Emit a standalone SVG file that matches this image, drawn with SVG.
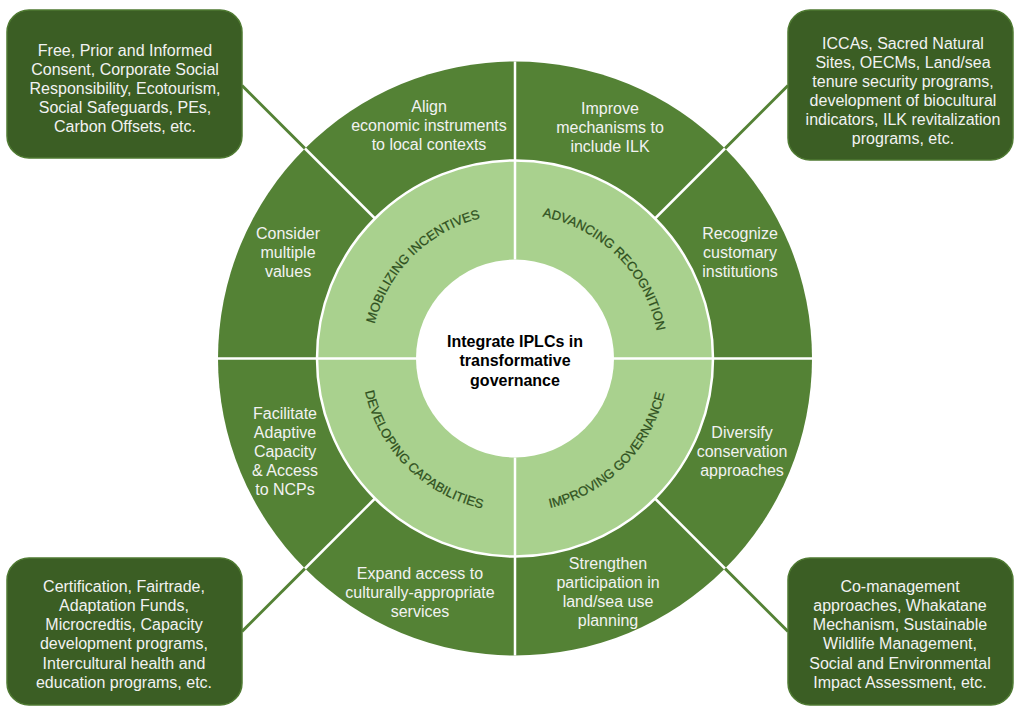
<svg xmlns="http://www.w3.org/2000/svg" width="1015" height="707" viewBox="0 0 1015 707">
<style>
  .box { fill:#3b5e24; stroke:#4f7a32; stroke-width:1.5; }
  .btxt { font-family:"Liberation Sans", Arial, sans-serif; font-size:16px; fill:#f2f2f2; text-anchor:middle; }
  .otxt { font-family:"Liberation Sans", Arial, sans-serif; font-size:16px; fill:#f2f2f2; text-anchor:middle; }
  .ctxt { font-family:"Liberation Sans", Arial, sans-serif; font-size:16px; font-weight:bold; fill:#000; text-anchor:middle; }
  .rtxt { font-family:"Liberation Sans", Arial, sans-serif; font-size:13px; fill:#2f5020; stroke:#2f5020; stroke-width:0.25; }
  .sep { stroke:#ffffff; stroke-width:2.5; fill:none; }
  .con { stroke:#548235; stroke-width:3; fill:none; }
</style>
<defs>
  <path id="arcTL" d="M 375.45 395.89 A 144.5 144.5 0 0 1 552.40 218.93"/>
  <path id="arcTR" d="M 477.60 218.93 A 144.5 144.5 0 0 1 654.55 395.89"/>
  <path id="arcBL" d="M 366.73 318.77 A 153.5 153.5 0 0 0 554.73 506.77"/>
  <path id="arcBR" d="M 475.27 506.77 A 153.5 153.5 0 0 0 663.27 318.77"/>
</defs>
<rect width="1015" height="707" fill="#ffffff"/>

<g id="connectors">
  <line class="con" x1="305" y1="148.5" x2="242" y2="85.5"/>
  <line class="con" x1="725" y1="148.5" x2="788" y2="85.5"/>
  <line class="con" x1="305" y1="568.5" x2="242" y2="631.5"/>
  <line class="con" x1="725" y1="568.5" x2="788" y2="631.5"/>
</g>

<g id="wheel">
  <circle cx="515" cy="358.5" r="297" fill="#548235"/>
  <circle cx="515" cy="358.5" r="198" fill="#a9d18e" stroke="#ffffff" stroke-width="2.5"/>
  <line class="sep" x1="218" y1="358.5" x2="416" y2="358.5"/>
  <line class="sep" x1="614" y1="358.5" x2="812" y2="358.5"/>
  <line class="sep" x1="515" y1="61.5" x2="515" y2="259.5"/>
  <line class="sep" x1="515" y1="457.5" x2="515" y2="655.5"/>
  <line class="sep" x1="375" y1="218.5" x2="305" y2="148.5"/>
  <line class="sep" x1="655" y1="218.5" x2="725" y2="148.5"/>
  <line class="sep" x1="375" y1="498.5" x2="305" y2="568.5"/>
  <line class="sep" x1="655" y1="498.5" x2="725" y2="568.5"/>
  <circle cx="515" cy="358.5" r="99" fill="#ffffff"/>
</g>

<g id="center">
  <text class="ctxt" x="515" y="347">Integrate IPLCs in</text>
  <text class="ctxt" x="515" y="366">transformative</text>
  <text class="ctxt" x="515" y="386">governance</text>
</g>

<g id="ring-mobilizing"><text class="rtxt"><textPath href="#arcTL" startOffset="50%" text-anchor="middle">MOBILIZING INCENTIVES</textPath></text></g>
<g id="ring-advancing"><text class="rtxt"><textPath href="#arcTR" startOffset="50%" text-anchor="middle">ADVANCING RECOGNITION</textPath></text></g>
<g id="ring-developing"><text class="rtxt"><textPath href="#arcBL" startOffset="50%" text-anchor="middle">DEVELOPING CAPABILITIES</textPath></text></g>
<g id="ring-improving"><text class="rtxt"><textPath href="#arcBR" startOffset="50%" text-anchor="middle">IMPROVING GOVERNANCE</textPath></text></g>

<g id="seg-align">
  <text class="otxt" x="429" y="112">Align</text>
  <text class="otxt" x="429" y="131">economic instruments</text>
  <text class="otxt" x="429" y="150">to local contexts</text>
</g>
<g id="seg-improve">
  <text class="otxt" x="610" y="114">Improve</text>
  <text class="otxt" x="610" y="133">mechanisms to</text>
  <text class="otxt" x="610" y="152">include ILK</text>
</g>
<g id="seg-consider">
  <text class="otxt" x="288" y="239">Consider</text>
  <text class="otxt" x="288" y="258">multiple</text>
  <text class="otxt" x="288" y="277">values</text>
</g>
<g id="seg-recognize">
  <text class="otxt" x="740" y="239">Recognize</text>
  <text class="otxt" x="740" y="258">customary</text>
  <text class="otxt" x="740" y="277">institutions</text>
</g>
<g id="seg-facilitate">
  <text class="otxt" x="285" y="419">Facilitate</text>
  <text class="otxt" x="285" y="438">Adaptive</text>
  <text class="otxt" x="285" y="457">Capacity</text>
  <text class="otxt" x="285" y="476">&amp; Access</text>
  <text class="otxt" x="285" y="495">to NCPs</text>
</g>
<g id="seg-diversify">
  <text class="otxt" x="742" y="438">Diversify</text>
  <text class="otxt" x="742" y="457">conservation</text>
  <text class="otxt" x="742" y="476">approaches</text>
</g>
<g id="seg-expand">
  <text class="otxt" x="420" y="579">Expand access to</text>
  <text class="otxt" x="420" y="598">culturally-appropriate</text>
  <text class="otxt" x="420" y="617">services</text>
</g>
<g id="seg-strengthen">
  <text class="otxt" x="608" y="569">Strengthen</text>
  <text class="otxt" x="608" y="588">participation in</text>
  <text class="otxt" x="608" y="607">land/sea use</text>
  <text class="otxt" x="608" y="626">planning</text>
</g>

<g id="box-tl">
  <rect class="box" x="7" y="10" width="235" height="148" rx="22"/>
  <text class="btxt" x="125" y="56">Free, Prior and Informed</text>
  <text class="btxt" x="125" y="75">Consent, Corporate Social</text>
  <text class="btxt" x="125" y="94">Responsibility, Ecotourism,</text>
  <text class="btxt" x="125" y="113">Social Safeguards, PEs,</text>
  <text class="btxt" x="125" y="132">Carbon Offsets, etc.</text>
</g>
<g id="box-tr">
  <rect class="box" x="788" y="10" width="225" height="150" rx="22"/>
  <text class="btxt" x="903" y="49">ICCAs, Sacred Natural</text>
  <text class="btxt" x="903" y="68">Sites, OECMs, Land/sea</text>
  <text class="btxt" x="903" y="87">tenure security programs,</text>
  <text class="btxt" x="903" y="106">development of biocultural</text>
  <text class="btxt" x="903" y="125">indicators, ILK revitalization</text>
  <text class="btxt" x="903" y="144">programs, etc.</text>
</g>
<g id="box-bl">
  <rect class="box" x="7" y="558" width="235" height="147" rx="22"/>
  <text class="btxt" x="124" y="592">Certification, Fairtrade,</text>
  <text class="btxt" x="124" y="611">Adaptation Funds,</text>
  <text class="btxt" x="124" y="630">Microcredtis, Capacity</text>
  <text class="btxt" x="124" y="649">development programs,</text>
  <text class="btxt" x="124" y="669">Intercultural health and</text>
  <text class="btxt" x="124" y="688">education programs, etc.</text>
</g>
<g id="box-br">
  <rect class="box" x="788" y="558" width="225" height="147" rx="22"/>
  <text class="btxt" x="900" y="592">Co-management</text>
  <text class="btxt" x="900" y="611">approaches, Whakatane</text>
  <text class="btxt" x="900" y="630">Mechanism, Sustainable</text>
  <text class="btxt" x="900" y="649">Wildlife Management,</text>
  <text class="btxt" x="900" y="669">Social and Environmental</text>
  <text class="btxt" x="900" y="688">Impact Assessment, etc.</text>
</g>
</svg>
